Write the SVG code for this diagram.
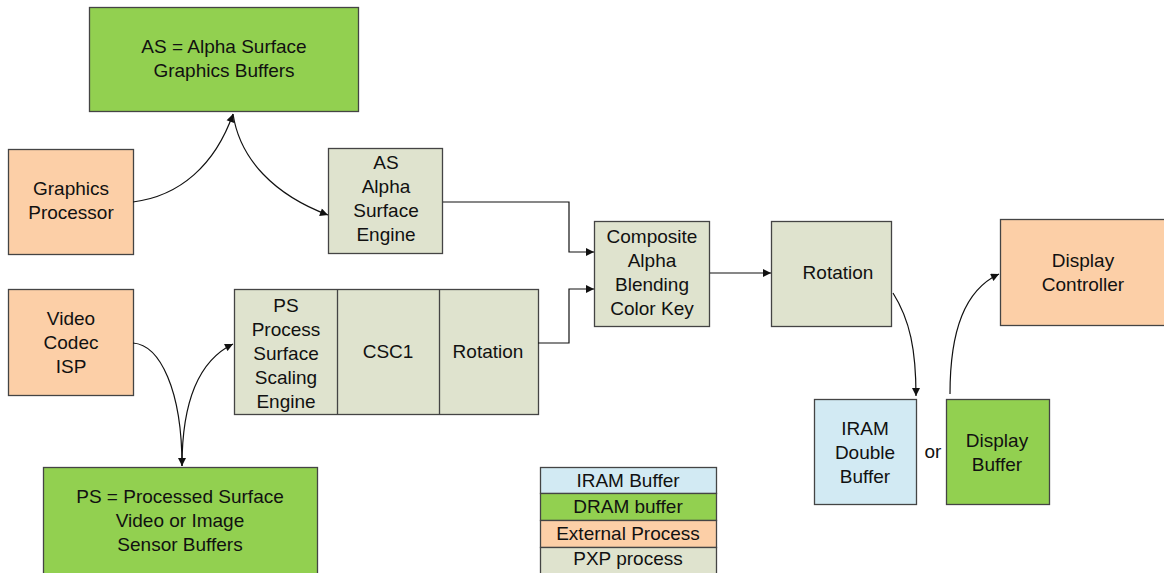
<svg xmlns="http://www.w3.org/2000/svg" width="1164" height="573" viewBox="0 0 1164 573">
<style>
.box{stroke:#444;stroke-width:1.3}
.g{fill:#92d050}.o{fill:#fccfa7}.b{fill:#d2eaf3}.p{fill:#dfe3ce}
text{font-family:"Liberation Sans",Arial,sans-serif;font-size:19px;fill:#111;text-anchor:middle;dominant-baseline:central}
.c{fill:none;stroke:#111;stroke-width:1.2}
</style>
<defs>
<marker id="ah" viewBox="0 0 10 10" refX="10" refY="5" markerWidth="10" markerHeight="8" markerUnits="userSpaceOnUse" orient="auto">
<path d="M0,0 L10,5 L0,10 z" fill="#111"/>
</marker>
</defs>
<rect width="1164" height="573" fill="#fff"/>
<g id="as-buffers"><rect class="box g" x="89.5" y="7.5" width="269" height="104"/><text x="224" y="46">AS = Alpha Surface</text><text x="224" y="70">Graphics Buffers</text></g>
<g id="graphics-processor"><rect class="box o" x="8.5" y="149.5" width="125" height="105"/><text x="71" y="188">Graphics</text><text x="71" y="212">Processor</text></g>
<g id="as-engine"><rect class="box p" x="328.5" y="148.5" width="114" height="105"/><text x="386" y="162">AS</text><text x="386" y="186">Alpha</text><text x="386" y="210">Surface</text><text x="386" y="234">Engine</text></g>
<g id="video-codec"><rect class="box o" x="8.5" y="289.5" width="125" height="106"/><text x="71" y="318">Video</text><text x="71" y="342">Codec</text><text x="71" y="366">ISP</text></g>
<g id="ps-engine"><rect class="box p" x="234.5" y="289.5" width="304" height="125"/><line class="box" x1="337.5" y1="289.5" x2="337.5" y2="414.5"/><line class="box" x1="439.5" y1="289.5" x2="439.5" y2="414.5"/><text x="286" y="305">PS</text><text x="286" y="329">Process</text><text x="286" y="353">Surface</text><text x="286" y="377">Scaling</text><text x="286" y="401">Engine</text><text x="388" y="351">CSC1</text><text x="488" y="351">Rotation</text></g>
<g id="ps-buffers"><rect class="box g" x="43.5" y="467.5" width="274" height="110"/><text x="180" y="496">PS = Processed Surface</text><text x="180" y="520">Video or Image</text><text x="180" y="544">Sensor Buffers</text></g>
<g id="composite"><rect class="box p" x="594.5" y="221.5" width="115" height="105"/><text x="652" y="236">Composite</text><text x="652" y="260">Alpha</text><text x="652" y="284">Blending</text><text x="652" y="308">Color Key</text></g>
<g id="rotation"><rect class="box p" x="771.5" y="221.5" width="120" height="105"/><text x="838" y="272">Rotation</text></g>
<g id="display-controller"><rect class="box o" x="1000.5" y="219.5" width="170" height="106"/><text x="1083" y="260">Display</text><text x="1083" y="284">Controller</text></g>
<g id="iram-buffer"><rect class="box b" x="814.5" y="399.5" width="102" height="105"/><text x="865" y="428">IRAM</text><text x="865" y="452">Double</text><text x="865" y="476">Buffer</text></g>
<text x="933" y="451">or</text>
<g id="display-buffer"><rect class="box g" x="946.5" y="399.5" width="103" height="105"/><text x="997" y="440">Display</text><text x="997" y="464">Buffer</text></g>
<g id="legend">
<rect class="box b" x="540.5" y="467.5" width="176" height="26"/><text x="628" y="480">IRAM Buffer</text>
<rect class="box g" x="540.5" y="493.5" width="176" height="27"/><text x="628" y="506">DRAM buffer</text>
<rect class="box o" x="540.5" y="520.5" width="176" height="27"/><text x="628" y="533">External Process</text>
<rect class="box p" x="540.5" y="547.5" width="176" height="30"/><text x="628" y="558">PXP process</text>
</g>
<g id="connectors">
<path class="c" d="M133,202 C180,196 215,165 233,114" marker-end="url(#ah)"/>
<path class="c" d="M233,114 C240,160 275,195 328,215" marker-end="url(#ah)"/>
<path class="c" d="M133,343 C160,345 182,390 182,466" marker-end="url(#ah)"/>
<path class="c" d="M182,466 C182,400 200,360 233,344" marker-end="url(#ah)"/>
<path class="c" d="M443,202 H569 V252 H594" marker-end="url(#ah)"/>
<path class="c" d="M538,343 H569 V289 H594" marker-end="url(#ah)"/>
<path class="c" d="M710,273 H771" marker-end="url(#ah)"/>
<path class="c" d="M893,293 C910,320 916,350 916,396" marker-end="url(#ah)"/>
<path class="c" d="M950,394 C950,330 965,290 999,274" marker-end="url(#ah)"/>
</g>
</svg>
